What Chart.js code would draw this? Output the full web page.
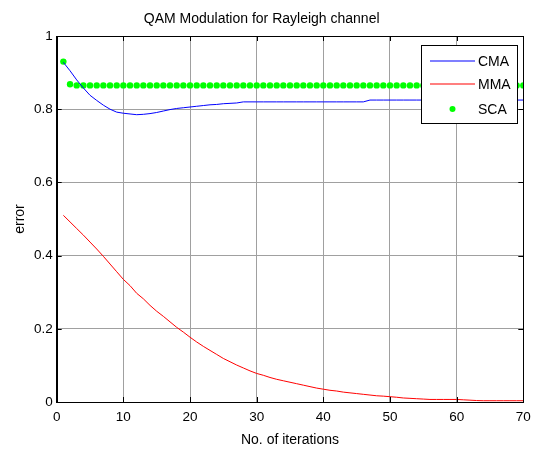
<!DOCTYPE html>
<html><head><meta charset="utf-8">
<script src="https://cdn.jsdelivr.net/npm/chart.js@4/dist/chart.umd.min.js"></script>
<style>html,body{margin:0;padding:0;background:#fff}</style>
</head><body>
<canvas id="c" width="545" height="451" style="width:545px;height:451px;display:block"></canvas>
<script>
const chartTitle = 'QAM Modulation for Rayleigh channel';
const xTitle = 'No. of iterations';
const yTitle = 'error';
const seriesNames = ['CMA', 'MMA', 'SCA'];
const xTicks = [0, 10, 20, 30, 40, 50, 60, 70];
const yTicks = [0, 0.2, 0.4, 0.6, 0.8, 1];
const iterations = [1,2,3,4,5,6,7,8,9,10,11,12,13,14,15,16,17,18,19,20,21,22,23,24,25,26,27,28,29,30,31,32,33,34,35,36,37,38,39,40,41,42,43,44,45,46,47,48,49,50,51,52,53,54,55,56,57,58,59,60,61,62,63,64,65,66,67,68,69,70];
const cmaError = [0.928,0.905,0.880,0.858,0.838,0.824,0.811,0.800,0.792,0.789,0.787,0.785,0.786,0.788,0.791,0.795,0.799,0.802,0.804,0.806,0.808,0.810,0.812,0.813,0.815,0.816,0.817,0.820,0.820,0.820,0.820,0.820,0.820,0.820,0.820,0.820,0.820,0.820,0.820,0.820,0.820,0.820,0.820,0.820,0.820,0.820,0.825,0.825,0.825,0.825,0.825,0.825,0.825,0.825,0.825,0.825,0.825,0.825,0.825,0.825,0.825,0.825,0.825,0.825,0.825,0.825,0.825,0.825,0.825,0.825];
const mmaError = [0.510,0.492,0.474,0.456,0.437,0.418,0.398,0.377,0.356,0.335,0.318,0.297,0.282,0.264,0.248,0.234,0.219,0.204,0.191,0.177,0.164,0.152,0.141,0.130,0.119,0.110,0.101,0.093,0.085,0.078,0.073,0.067,0.062,0.058,0.054,0.050,0.046,0.042,0.038,0.035,0.032,0.030,0.027,0.025,0.023,0.021,0.019,0.017,0.016,0.0145,0.013,0.011,0.010,0.009,0.008,0.007,0.007,0.007,0.007,0.007,0.006,0.005,0.004,0.0035,0.0035,0.0035,0.0035,0.0035,0.0035,0.0035];
const scaError = [0.930,0.868,0.865,0.865,0.865,0.865,0.865,0.865,0.865,0.865,0.865,0.865,0.865,0.865,0.865,0.865,0.865,0.865,0.865,0.865,0.865,0.865,0.865,0.865,0.865,0.865,0.865,0.865,0.865,0.865,0.865,0.865,0.865,0.865,0.865,0.865,0.865,0.865,0.865,0.865,0.865,0.865,0.865,0.865,0.865,0.865,0.865,0.865,0.865,0.865,0.865,0.865,0.865,0.865,0.865,0.865,0.865,0.865,0.865,0.865,0.865,0.865,0.865,0.865,0.865,0.865,0.865,0.865,0.865,0.865];
const seriesColors = ['#0000ff', '#ff0000', '#00ff00'];

const FONT = "'Liberation Sans', Arial, sans-serif";
const pts = (ys) => iterations.map((x, i) => ({x: x, y: ys[i]}));

const boxPlugin = {
  id: 'matlabBox',
  afterDatasetsDraw(chart) {
    const ctx = chart.ctx, a = chart.chartArea;
    const xs = chart.scales.x, ys = chart.scales.y;
    ctx.save();
    ctx.strokeStyle = '#000';
    ctx.lineWidth = 1;
    ctx.beginPath();
    ctx.rect(Math.round(a.left) + 0.5, Math.round(a.top) + 0.5, Math.round(a.right) - Math.round(a.left), Math.round(a.bottom) - Math.round(a.top));
    ctx.stroke();
    const tl = 5;
    ctx.beginPath();
    xTicks.forEach(v => {
      const px = Math.round(xs.getPixelForValue(v)) + 0.5;
      ctx.moveTo(px, a.bottom); ctx.lineTo(px, a.bottom - tl);
      ctx.moveTo(px, a.top); ctx.lineTo(px, a.top + tl);
    });
    yTicks.forEach(v => {
      const py = Math.round(ys.getPixelForValue(v)) + 0.5;
      ctx.moveTo(a.left, py); ctx.lineTo(a.left + tl, py);
      ctx.moveTo(a.right, py); ctx.lineTo(a.right - tl, py);
    });
    ctx.stroke();
    // legend
    const L = 421.5, T = 45.5, W = 96, H = 78;
    ctx.fillStyle = '#fff';
    ctx.fillRect(L, T, W, H);
    ctx.strokeStyle = '#000';
    ctx.strokeRect(L, T, W, H);
    ctx.font = '14px ' + FONT;
    ctx.textBaseline = 'middle';
    ctx.textAlign = 'left';
    const rows = [61, 84, 109];
    chart.data.datasets.forEach((ds, i) => {
      const y = rows[i];
      if (ds.showLine === false) {
        ctx.fillStyle = seriesColors[i];
        ctx.beginPath(); ctx.arc(452.5, y, 3, 0, Math.PI * 2); ctx.fill();
      } else {
        ctx.strokeStyle = seriesColors[i]; ctx.lineWidth = 1.2;
        ctx.beginPath(); ctx.moveTo(430, y); ctx.lineTo(475, y); ctx.stroke();
      }
      ctx.fillStyle = '#000';
      ctx.fillText(ds.label, 478, y + 1);
    });
    ctx.restore();
  }
};

new Chart(document.getElementById('c'), {
  type: 'line',
  data: {
    datasets: [
      {label: seriesNames[0], data: pts(cmaError), borderColor: seriesColors[0], borderWidth: 1, pointRadius: 0, fill: false, tension: 0},
      {label: seriesNames[1], data: pts(mmaError), borderColor: seriesColors[1], borderWidth: 1, pointRadius: 0, fill: false, tension: 0},
      {label: seriesNames[2], data: pts(scaError), showLine: false, borderColor: seriesColors[2], pointBackgroundColor: seriesColors[2], pointBorderColor: seriesColors[2], pointBorderWidth: 0, pointRadius: 3.2, clip: 0}
    ]
  },
  options: {
    responsive: false,
    animation: false,
    devicePixelRatio: 1,
    layout: {padding: {left: 0, right: 21.7, top: 0, bottom: 0}},
    plugins: {
      legend: {display: false},
      tooltip: {enabled: false},
      title: {display: true, text: chartTitle, color: '#000', font: {family: FONT, size: 14, weight: 'normal', lineHeight: 1.2}, padding: {top: 10.6, bottom: 8.6}}
    },
    scales: {
      x: {
        type: 'linear', min: 0, max: 70,
        afterBuildTicks: s => { s.ticks = xTicks.map(v => ({value: v})); },
        afterFit: s => { s.height = 49; s.paddingLeft = 0; s.paddingRight = 0; },
        ticks: {color: '#000', font: {family: FONT, size: 13.5}, padding: 7, maxRotation: 0, callback: v => String(v)},
        grid: {color: '#a0a0a0', lineWidth: 1, drawTicks: false},
        border: {display: true, color: '#000', width: 1},
        title: {display: true, text: xTitle, color: '#000', font: {family: FONT, size: 14}, padding: {top: 0, bottom: 2.6}}
      },
      y: {
        type: 'linear', min: 0, max: 1,
        afterBuildTicks: s => { s.ticks = yTicks.map(v => ({value: v})); },
        afterFit: s => { s.width = 56.7; s.paddingTop = 0; s.paddingBottom = 0; },
        ticks: {color: '#000', font: {family: FONT, size: 13.5}, padding: 4, callback: v => String(v)},
        grid: {color: '#a0a0a0', lineWidth: 1, drawTicks: false},
        border: {display: true, color: '#000', width: 1},
        title: {display: true, text: yTitle, color: '#000', font: {family: FONT, size: 14}, padding: {top: 11.6, bottom: 0}}
      }
    }
  },
  plugins: [boxPlugin]
});
</script>
</body></html>
